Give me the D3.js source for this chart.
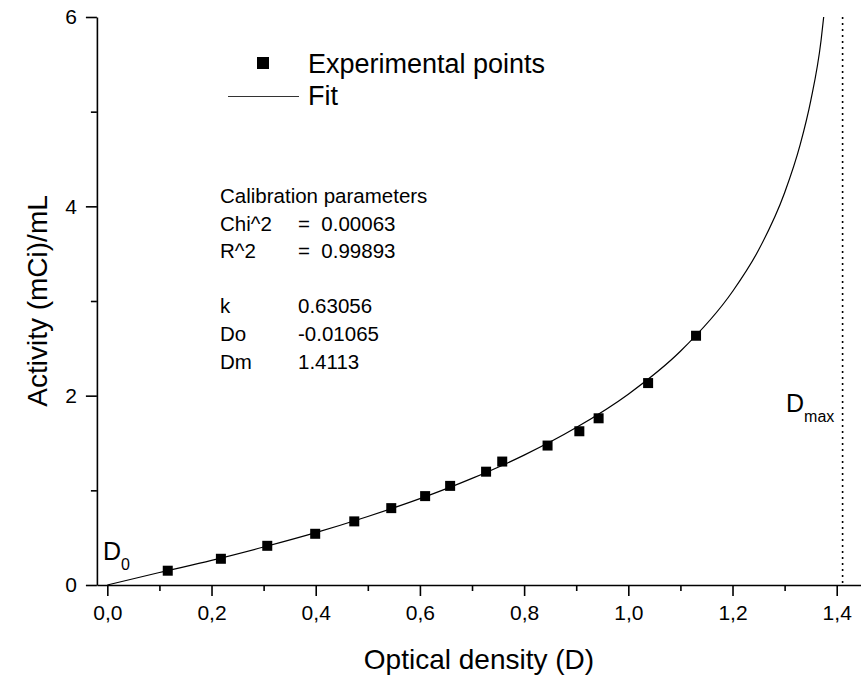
<!DOCTYPE html>
<html>
<head>
<meta charset="utf-8">
<script src="https://cdn.jsdelivr.net/npm/d3@7"></script>
<style>
  body { margin: 0; background: #fff; }
  svg { display: block; font-family: "Liberation Sans", Arial, sans-serif; }
</style>
</head>
<body>
<script>
// experimental points
var expD = [0.116, 0.218, 0.307, 0.399, 0.474, 0.545, 0.610, 0.658, 0.727, 0.758, 0.845, 0.906, 0.943, 1.038, 1.130];
var expA = [0.151, 0.277, 0.414, 0.541, 0.672, 0.812, 0.939, 1.047, 1.197, 1.304, 1.473, 1.624, 1.761, 2.133, 2.633];

// fit curve
var fitD = [0, 0.1, 0.2, 0.3, 0.4, 0.5, 0.6, 0.7, 0.8, 0.9, 1.0, 1.1, 1.2, 1.25, 1.3, 1.33, 1.35, 1.37, 1.375];
var fitA = [0, 0.132, 0.260, 0.401, 0.553, 0.724, 0.912, 1.126, 1.372, 1.663, 2.016, 2.469, 3.100, 3.538, 4.143, 4.654, 5.111, 5.754, 6.0];

var xMajor = [0, 0.2, 0.4, 0.6, 0.8, 1.0, 1.2, 1.4];
var xMinor = [0.1, 0.3, 0.5, 0.7, 0.9, 1.1, 1.3];
var yMajor = [0, 2, 4, 6];
var yMinor = [1, 3, 5];

var dMax = 1.4113;

var calibLabels = ["Chi^2", "R^2", "", "k", "Do", "Dm"];
var calibValues = ["=  0.00063", "=  0.99893", "", "0.63056", "-0.01065", "1.4113"];

var svgWidth = 861, svgHeight = 676;

var svg = d3.select("body").append("svg")
  .attr("width", svgWidth)
  .attr("height", svgHeight);

svg.append("rect").attr("width", svgWidth).attr("height", svgHeight).attr("fill", "#fff");

var x = d3.scaleLinear().domain([-0.02, 1.447]).range([96.9, 861.2]);
var y = d3.scaleLinear().domain([0, 6]).range([585, 17]);

// x axis
svg.append("g")
  .attr("transform", "translate(0,585)")
  .call(d3.axisBottom(x).tickValues(xMajor).tickSize(11).tickSizeOuter(0).tickPadding(9)
    .tickFormat(d => d.toFixed(1).replace(".", ",")));
svg.append("g")
  .attr("transform", "translate(0,585)")
  .call(d3.axisBottom(x).tickValues(xMinor).tickSize(6).tickFormat(""))
  .select(".domain").remove();

// y axis
svg.append("g")
  .attr("transform", "translate(96.9,0)")
  .call(d3.axisLeft(y).tickValues(yMajor).tickSize(11).tickSizeOuter(0).tickPadding(9)
    .tickFormat(d => String(d)));
svg.append("g")
  .attr("transform", "translate(96.9,0)")
  .call(d3.axisLeft(y).tickValues(yMinor).tickSize(6).tickFormat(""))
  .select(".domain").remove();

svg.selectAll(".domain, .tick line").attr("stroke", "#000").attr("stroke-width", 1.6);
svg.selectAll(".tick text").attr("font-size", 21).attr("fill", "#000")
  .style("font-family", '"Liberation Sans", Arial, sans-serif');

// axis titles
svg.append("text")
  .attr("x", 479).attr("y", 669)
  .attr("text-anchor", "middle")
  .attr("font-size", 28)
  .text("Optical density (D)");

svg.append("text")
  .attr("transform", "translate(47,301) rotate(-90)")
  .attr("text-anchor", "middle")
  .attr("font-size", 28)
  .text("Activity (mCi)/mL");

// Dmax dotted line
svg.append("line")
  .attr("x1", x(dMax)).attr("x2", x(dMax))
  .attr("y1", y(6)).attr("y2", y(0))
  .attr("stroke", "#000")
  .attr("stroke-width", 1.6)
  .attr("stroke-dasharray", "2,4");

// fit line
var line = d3.line()
  .x((d, i) => x(fitD[i]))
  .y((d, i) => y(fitA[i]))
  .curve(d3.curveMonotoneX);

svg.append("path")
  .attr("d", line(fitD))
  .attr("fill", "none")
  .attr("stroke", "#000")
  .attr("stroke-width", 1.2);

// experimental points
svg.selectAll(".pt")
  .data(expD)
  .enter()
  .append("rect")
  .attr("class", "pt")
  .attr("x", (d, i) => x(d) - 5)
  .attr("y", (d, i) => y(expA[i]) - 5)
  .attr("width", 10)
  .attr("height", 10)
  .attr("fill", "#000");

// legend
svg.append("rect")
  .attr("x", 257).attr("y", 57)
  .attr("width", 12).attr("height", 12)
  .attr("fill", "#000");
svg.append("text")
  .attr("x", 308).attr("y", 73)
  .attr("font-size", 27)
  .text("Experimental points");
svg.append("line")
  .attr("x1", 228).attr("x2", 299)
  .attr("y1", 96.5).attr("y2", 96.5)
  .attr("stroke", "#333")
  .attr("stroke-width", 1.2);
svg.append("text")
  .attr("x", 308).attr("y", 105)
  .attr("font-size", 27)
  .text("Fit");

// calibration parameters
svg.append("text")
  .attr("x", 220).attr("y", 203)
  .attr("font-size", 20.5)
  .text("Calibration parameters");

calibLabels.forEach(function (lab, i) {
  var by = 230.6 + i * 27.6;
  svg.append("text")
    .attr("x", 220).attr("y", by)
    .attr("font-size", 20.5)
    .text(lab);
  svg.append("text")
    .attr("x", 298).attr("y", by)
    .attr("font-size", 20.5)
    .attr("xml:space", "preserve")
    .style("white-space", "pre")
    .text(calibValues[i]);
});

// D0 and Dmax labels
var d0 = svg.append("text").attr("x", 103).attr("y", 560).attr("font-size", 25);
d0.append("tspan").text("D");
d0.append("tspan").attr("font-size", 16).attr("dy", 10).text("0");

var dm = svg.append("text").attr("x", 786).attr("y", 412).attr("font-size", 25);
dm.append("tspan").text("D");
dm.append("tspan").attr("font-size", 16).attr("dy", 10).text("max");
</script>
</body>
</html>
